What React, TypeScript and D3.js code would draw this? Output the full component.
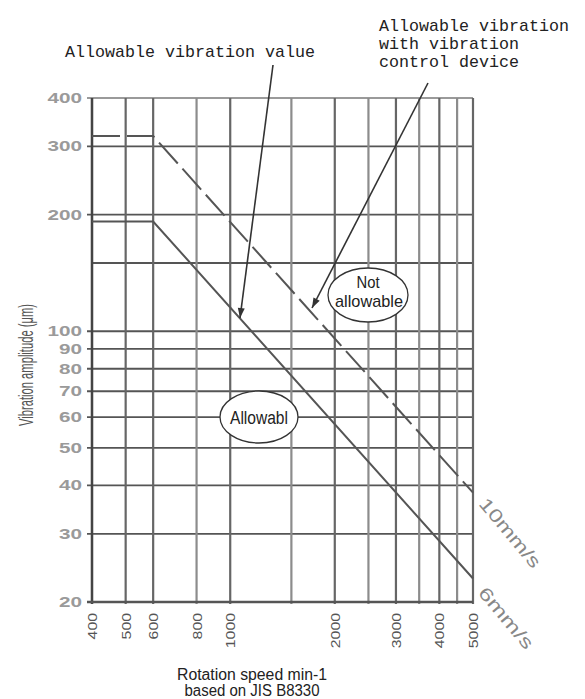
import React from "react";
import * as d3 from "d3";

const xTickValues = [400, 500, 600, 800, 1000, 2000, 3000, 4000, 5000];
const xGridValues = [400, 500, 600, 800, 1000, 1500, 2000, 2500, 3000, 3500, 4000, 4500, 5000];
const yTickValues = [20, 30, 40, 50, 60, 70, 80, 90, 100, 200, 300, 400];
const yGridValues = [20, 30, 40, 50, 60, 70, 80, 90, 100, 150, 200, 300, 400];
const speeds = [400, 600, 5000];
const limit6 = [192, 192, 23];
const limit10 = [319, 319, 38.3];

const W = 585;
const H = 699;

export default function App() {
  const x = d3.scaleLog().domain([400, 5000]).range([92, 473]);
  const y = d3.scaleLog().domain([20, 400]).range([602, 98]);

  const line = d3
    .line<number>()
    .x((_, i) => x(speeds[i]))
    .y((d) => y(d));

  const mono = "'Liberation Mono', 'DejaVu Sans Mono', monospace";
  const sans = "'Liberation Sans', 'DejaVu Sans', sans-serif";

  const arrowHead = (x1: number, y1: number, x2: number, y2: number) => {
    const a = Math.atan2(y2 - y1, x2 - x1);
    const L = 10;
    const w = 3.5;
    const bx = x2 - L * Math.cos(a);
    const by = y2 - L * Math.sin(a);
    const px = -Math.sin(a) * w;
    const py = Math.cos(a) * w;
    return `M${x2},${y2}L${bx + px},${by + py}L${bx - px},${by - py}Z`;
  };

  const arrows = [
    { x1: 273, y1: 65, x2: 240, y2: 318 },
    { x1: 428, y1: 83, x2: 312, y2: 308 },
  ];

  return (
    <svg
      width={W}
      height={H}
      style={{ position: "absolute", left: 0, top: 0, background: "#fff" }}
    >
      {/* grid: horizontal */}
      {yGridValues.map((v) => (
        <line
          key={"h" + v}
          x1={v === 150 ? x(400) : 87}
          x2={x(5000)}
          y1={y(v)}
          y2={y(v)}
          stroke={v === 400 ? "#9a9a9a" : "#555"}
          strokeWidth={1.8}
        />
      ))}
      {/* grid: vertical */}
      {xGridValues.map((v) => (
        <line
          key={"v" + v}
          x1={x(v)}
          x2={x(v)}
          y1={y(400)}
          y2={y(20) + 2}
          stroke={[800, 1500, 2500, 3500, 4500].includes(v) ? "#8c8c8c" : "#666"}
          strokeWidth={2.2}
        />
      ))}
      {/* axes */}
      <line x1={x(400)} x2={x(400)} y1={y(400)} y2={y(20) + 2} stroke="#444" strokeWidth={2.4} />
      <line x1={87} x2={x(5000)} y1={y(20)} y2={y(20)} stroke="#555" strokeWidth={2.6} />

      {/* limit curves */}
      <path d={line(limit6) || ""} fill="none" stroke="#555" strokeWidth={2} />
      <path
        d={line(limit10) || ""}
        fill="none"
        stroke="#555"
        strokeWidth={2}
        strokeDasharray="28 7"
      />

      {/* y tick labels */}
      {yTickValues.map((v) => (
        <text
          key={"yt" + v}
          x={82}
          y={y(v) + 5}
          textAnchor="end"
          fontFamily={sans}
          fontSize={14}
          fontWeight="bold"
          fill="#9a9a9a"
          textLength={String(v).length * 11.5}
          lengthAdjust="spacingAndGlyphs"
        >
          {v}
        </text>
      ))}

      {/* x tick labels */}
      {xTickValues.map((v) => (
        <text
          key={"xt" + v}
          transform={`translate(${x(v) + 5},613) rotate(-90)`}
          textAnchor="end"
          fontFamily={sans}
          fontSize={13}
          fill="#555"
          textLength={String(v).length * 8.8}
          lengthAdjust="spacingAndGlyphs"
        >
          {v}
        </text>
      ))}

      {/* axis titles */}
      <text
        transform="translate(33,365) rotate(-90)"
        textAnchor="middle"
        fontFamily={sans}
        fontSize={20}
        fill="#555"
        textLength={122}
        lengthAdjust="spacingAndGlyphs"
      >
        Vibration amplitude (μm)
      </text>
      <text
        x={252}
        y={680}
        textAnchor="middle"
        fontFamily={sans}
        fontSize={16}
        fill="#222"
        textLength={150}
        lengthAdjust="spacingAndGlyphs"
      >
        Rotation speed min-1
      </text>
      <text
        x={252}
        y={696}
        textAnchor="middle"
        fontFamily={sans}
        fontSize={16}
        fill="#222"
        textLength={135}
        lengthAdjust="spacingAndGlyphs"
      >
        based on JIS B8330
      </text>

      {/* annotations */}
      <text x={65} y={57} fontFamily={mono} fontSize={17} fill="#222" textLength={250} lengthAdjust="spacingAndGlyphs">
        Allowable vibration value
      </text>
      {["Allowable vibration", "with vibration", "control device"].map((t, i) => (
        <text
          key={t}
          x={379}
          y={31 + i * 18}
          fontFamily={mono}
          fontSize={17}
          fill="#222"
          textLength={t.length * 10}
          lengthAdjust="spacingAndGlyphs"
        >
          {t}
        </text>
      ))}

      {arrows.map((a, i) => (
        <g key={"ar" + i}>
          <line x1={a.x1} y1={a.y1} x2={a.x2} y2={a.y2} stroke="#333" strokeWidth={1.6} />
          <path d={arrowHead(a.x1, a.y1, a.x2, a.y2)} fill="#333" />
        </g>
      ))}

      {/* ellipses */}
      <ellipse cx={368} cy={295} rx={40} ry={27} fill="#fff" stroke="#333" strokeWidth={1.3} />
      <text x={368} y={288} textAnchor="middle" fontFamily={sans} fontSize={16} fill="#222" textLength={23} lengthAdjust="spacingAndGlyphs">
        Not
      </text>
      <text x={369} y={307} textAnchor="middle" fontFamily={sans} fontSize={17} fill="#222" textLength={68} lengthAdjust="spacingAndGlyphs">
        allowable
      </text>
      <ellipse cx={259} cy={417} rx={39} ry={26} fill="#fff" stroke="#333" strokeWidth={1.3} />
      <text x={259} y={424} textAnchor="middle" fontFamily={sans} fontSize={18} fill="#222" textLength={58} lengthAdjust="spacingAndGlyphs">
        Allowabl
      </text>

      {/* curve labels */}
      <text
        transform="translate(510,533) rotate(50)"
        textAnchor="middle"
        dominantBaseline="central"
        fontFamily={sans}
        fontSize={18}
        fill="#888"
        textLength={85}
        lengthAdjust="spacingAndGlyphs"
      >
        10mm/s
      </text>
      <text
        transform="translate(506,618) rotate(50)"
        textAnchor="middle"
        dominantBaseline="central"
        fontFamily={sans}
        fontSize={18}
        fill="#888"
        textLength={75}
        lengthAdjust="spacingAndGlyphs"
      >
        6mm/s
      </text>
    </svg>
  );
}
